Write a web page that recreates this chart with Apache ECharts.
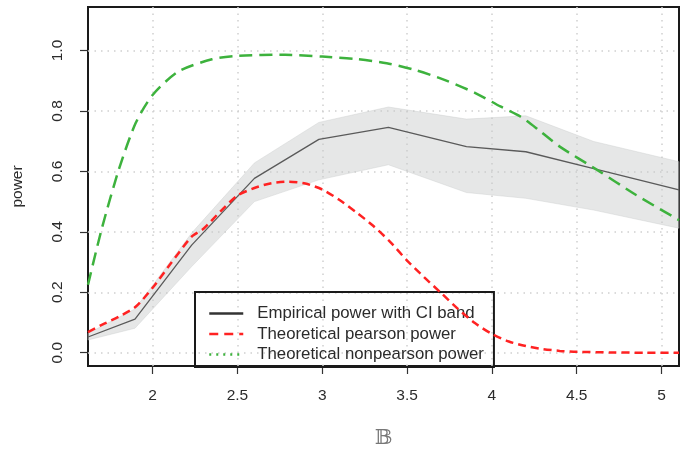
<!DOCTYPE html>
<html>
<head>
<meta charset="utf-8">
<script src="https://cdn.jsdelivr.net/npm/echarts@6/dist/echarts.min.js"></script>
<style>html,body{margin:0;padding:0;background:#fff}#c{width:686px;height:449px}</style>
</head>
<body>
<div id="c"></div>
<script>
// ---- data ----
const xTicks = [2, 2.5, 3, 3.5, 4, 4.5, 5];
const yTicks = [0, 0.2, 0.4, 0.6, 0.8, 1.0];

const empX      = [1.619, 1.896, 2.23, 2.6, 2.98, 3.39, 3.85, 4.2, 4.6, 5.103];
const empPower  = [0.052, 0.111, 0.356, 0.577, 0.706, 0.746, 0.682, 0.665, 0.609, 0.539];
const bandUpper = [0.064, 0.145, 0.396, 0.628, 0.762, 0.813, 0.773, 0.784, 0.699, 0.632];
const bandLower = [0.042, 0.081, 0.285, 0.500, 0.572, 0.622, 0.530, 0.511, 0.472, 0.412];

const pearX = [1.619, 1.70, 1.80, 1.90, 2.0, 2.1, 2.23, 2.3, 2.4, 2.5, 2.6, 2.7, 2.8, 2.9, 3.0, 3.1, 3.2, 3.3, 3.4, 3.5, 3.6, 3.7, 3.8, 3.9, 4.0, 4.1, 4.2, 4.3, 4.4, 4.5, 4.7, 4.9, 5.103];
const pearY = [0.068, 0.092, 0.119, 0.152, 0.215, 0.29, 0.384, 0.41, 0.468, 0.52, 0.545, 0.561, 0.566, 0.56, 0.54, 0.506, 0.465, 0.42, 0.367, 0.305, 0.25, 0.198, 0.145, 0.098, 0.062, 0.037, 0.022, 0.012, 0.006, 0.003, 0.001, 0, 0];

const nonX = [1.619, 1.70, 1.80, 1.90, 2.0, 2.15, 2.35, 2.5, 2.78, 3.0, 3.2, 3.38, 3.55, 3.72, 3.9, 4.05, 4.17, 4.28, 4.40, 4.62, 4.85, 5.103];
const nonY = [0.225, 0.41, 0.605, 0.76, 0.853, 0.93, 0.971, 0.982, 0.986, 0.980, 0.972, 0.958, 0.935, 0.903, 0.86, 0.815, 0.781, 0.735, 0.682, 0.605, 0.522, 0.439];

const names = ['Empirical power with CI band', 'Theoretical pearson power', 'Theoretical nonpearson power'];

const zip = (xs, ys) => xs.map((x, i) => [x, ys[i]]);
const txt = '#2b2b2b';
const font = 'Liberation Sans, Arial, sans-serif';

const chart = echarts.init(document.getElementById('c'), null, {renderer: 'canvas'});
chart.setOption({
  animation: false,
  backgroundColor: '#fff',
  grid: {left: 88, right: 7, top: 7, bottom: 83, outerBoundsMode: 'none', containLabel: false,
         show: true, borderColor: '#1a1a1a', borderWidth: 2, backgroundColor: 'transparent'},
  xAxis: {
    type: 'value', min: 1.619, max: 5.103,
    name: '𝔹', nameLocation: 'middle', nameGap: 62,
    nameTextStyle: {fontSize: 21, color: '#777', fontFamily: 'DejaVu Serif, DejaVu Sans, serif'},
    axisLine: {show: false, onZero: false},
    axisTick: {show: true, customValues: xTicks, length: 8, lineStyle: {color: '#333', width: 1.2}},
    axisLabel: {customValues: xTicks, fontSize: 15.5, color: txt, fontFamily: font, margin: 22, formatter: v => String(v)},
    splitLine: {show: true, lineStyle: {color: '#cfcfcf', width: 1.5, type: [1.5, 5]}}
  },
  yAxis: {
    type: 'value', min: -0.044, max: 1.144,
    name: 'power', nameLocation: 'middle', nameGap: 62, nameRotate: 90,
    nameTextStyle: {fontSize: 15.5, color: txt, fontFamily: font},
    axisLine: {show: false, onZero: false},
    axisTick: {show: true, customValues: yTicks, length: 8, lineStyle: {color: '#333', width: 1.2}},
    axisLabel: {customValues: yTicks, rotate: 90, fontSize: 15.5, color: txt, fontFamily: font, margin: 22, formatter: v => v.toFixed(1)},
    splitLine: {show: true, lineStyle: {color: '#cfcfcf', width: 1.5, type: [1.5, 5]}}
  },
  legend: {
    orient: 'vertical', left: 195, top: 292,
    padding: [13, 10, 4, 13], itemGap: 3.5, itemWidth: 34, itemHeight: 14,
    borderColor: '#1a1a1a', borderWidth: 2, backgroundColor: 'transparent',
    itemStyle: {opacity: 0},
    textStyle: {fontSize: 16.8, color: txt, fontFamily: font, padding: [0, 0, 0, 9]},
    data: [
      {name: names[0], lineStyle: {color: '#333', width: 2.5, type: 'solid'}},
      {name: names[1], lineStyle: {color: '#ff2222', width: 2.5, type: [9, 6]}},
      {name: names[2], lineStyle: {color: '#3db23d', width: 2.5, type: [2, 5]}}
    ]
  },
  series: [
    {
      name: 'band', type: 'custom', z: 1, silent: true,
      data: [[empX[0], bandLower[0]]],
      renderItem: function (params, api) {
        const pts = [];
        for (let i = 0; i < empX.length; i++) pts.push(api.coord([empX[i], bandUpper[i]]));
        for (let i = empX.length - 1; i >= 0; i--) pts.push(api.coord([empX[i], bandLower[i]]));
        return {type: 'polygon', shape: {points: pts}, style: {fill: 'rgba(200,202,202,0.45)', stroke: 'rgba(200,202,202,0.5)', lineWidth: 0.8}};
      }
    },
    {
      name: names[0], type: 'line', z: 3, data: zip(empX, empPower), symbol: 'none',
      lineStyle: {color: '#5a5a5a', width: 1.3}
    },
    {
      name: names[1], type: 'line', z: 4, data: zip(pearX, pearY), symbol: 'none',
      smooth: 0.25,
      lineStyle: {color: '#ff2222', width: 2.5, type: [8, 5]}
    },
    {
      name: names[2], type: 'line', z: 4, data: zip(nonX, nonY), symbol: 'none',
      smooth: 0.25,
      lineStyle: {color: '#3db23d', width: 2.5, type: [13, 7]}
    }
  ]
});
</script>
</body>
</html>
